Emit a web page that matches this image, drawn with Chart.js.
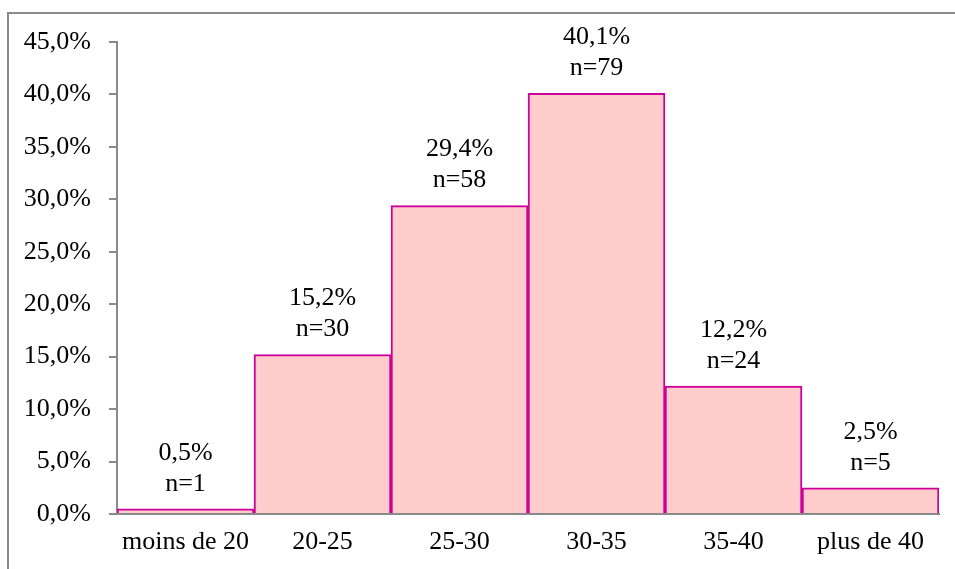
<!DOCTYPE html>
<html>
<head>
<meta charset="utf-8">
<script src="https://cdn.jsdelivr.net/npm/chart.js@4"></script>
<style>
  html, body { margin: 0; padding: 0; background: #fff; overflow: hidden; }
  #wrap { position: relative; width: 955px; height: 569px; }
  #frame { position: absolute; left: 7px; top: 12px; width: 1000px; height: 1000px; border: 2px solid #8a8a8a; }
  canvas { position: absolute; left: 0; top: 0; }
</style>
</head>
<body>
<div id="wrap">
  <div id="frame"></div>
  <canvas id="ageChart" width="955" height="569"></canvas>
</div>
<script>
// age groups
const categories = ['moins de 20', '20-25', '25-30', '30-35', '35-40', 'plus de 40'];
const percents = [0.5, 15.2, 29.4, 40.1, 12.2, 2.5];
const counts = [1, 30, 58, 79, 24, 5];
const yTicks = [0, 5, 10, 15, 20, 25, 30, 35, 40, 45];

const serif = 'Liberation Serif';
const fmt = function (v) { return v.toFixed(1).replace('.', ',') + '%'; };

// two-line label over each bar
const barLabels = {
  id: 'barLabels',
  afterDatasetsDraw(chart) {
    const ctx = chart.ctx;
    const meta = chart.getDatasetMeta(0);
    ctx.save();
    ctx.font = '26px "' + serif + '"';
    ctx.fillStyle = '#000';
    ctx.textAlign = 'center';
    ctx.textBaseline = 'middle';
    meta.data.forEach(function (bar, i) {
      ctx.fillText(fmt(percents[i]), bar.x, bar.y - 56);
      ctx.fillText('n=' + counts[i], bar.x, bar.y - 25);
    });
    ctx.restore();
  }
};

new Chart(document.getElementById('ageChart').getContext('2d'), {
  type: 'bar',
  data: {
    labels: categories,
    datasets: [{
      data: percents,
      backgroundColor: '#FFCCCC',
      borderColor: '#CC0099',
      borderWidth: 2,
      barPercentage: 1,
      categoryPercentage: 1
    }]
  },
  options: {
    responsive: false,
    animation: false,
    layout: { padding: { top: 42, right: 16, left: 0, bottom: 0 } },
    plugins: { legend: { display: false }, tooltip: { enabled: false } },
    scales: {
      x: {
        grid: { display: false, drawTicks: false },
        border: { display: true, color: '#8a8a8a', width: 2 },
        ticks: { color: '#000', font: { family: serif, size: 26 }, padding: 13, maxRotation: 0, autoSkip: false },
        afterFit(scale) { scale.height = 55; }
      },
      y: {
        min: 0,
        max: 45,
        afterBuildTicks(scale) { scale.ticks = yTicks.map(function (v) { return { value: v }; }); },
        grid: { drawOnChartArea: false, drawTicks: true, tickLength: 8, color: '#8a8a8a', lineWidth: 2 },
        border: { display: true, color: '#8a8a8a', width: 2 },
        ticks: { color: '#000', font: { family: serif, size: 26 }, padding: 18, callback: function (v) { return fmt(v); } },
        afterFit(scale) { scale.width = 117; }
      }
    }
  },
  plugins: [barLabels]
});
</script>
</body>
</html>
